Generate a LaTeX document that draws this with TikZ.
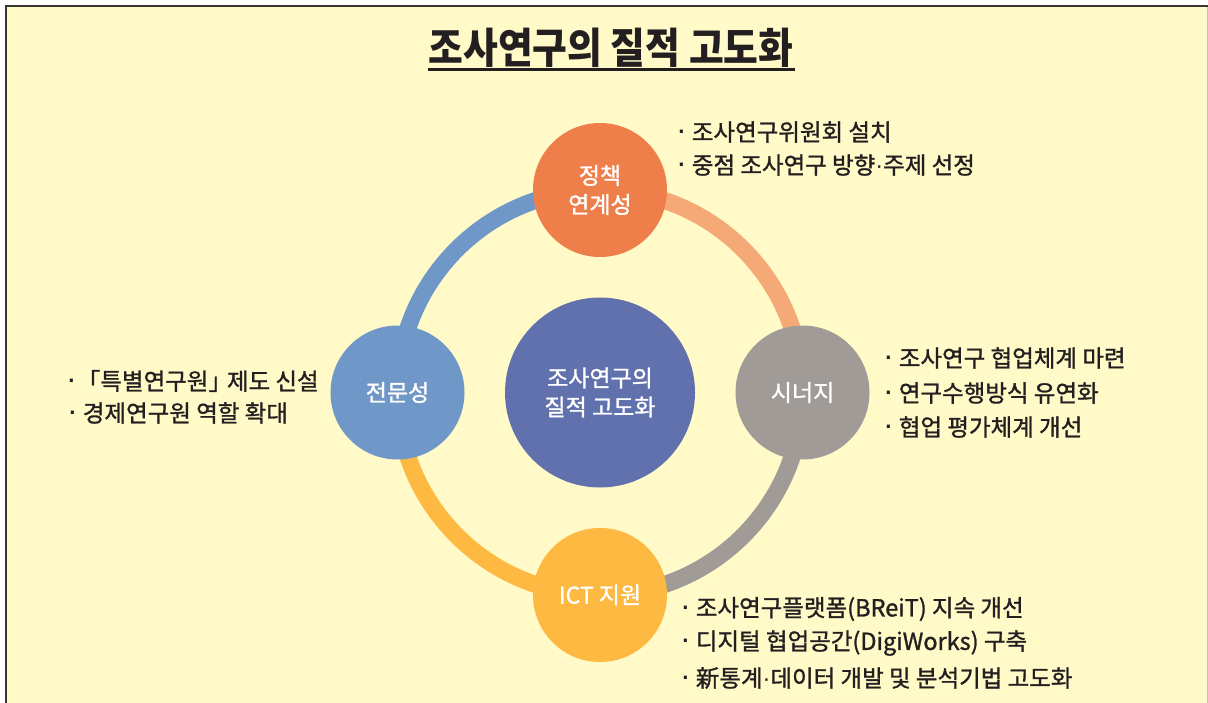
\documentclass[tikz,border=0pt]{standalone}
\usepackage{fontspec}
\setmainfont{Noto Sans CJK KR}
\newfontfamily\bodyfont{Noto Sans CJK KR}[FakeBold=1.2]
\newfontfamily\dotfont{Liberation Sans}
\newcommand\md{{\dotfont ·}}
\newcommand\bdot{{\dotfont\fontsize{32}{32}\selectfont ·}}
\newcommand\bul{\bdot\hspace{5pt}}
\usetikzlibrary{backgrounds}
\definecolor{bgyellow}{HTML}{FFFAC8}
\definecolor{framedark}{HTML}{3A3632}
\definecolor{framegray}{HTML}{C9C3A8}
\definecolor{textdark}{HTML}{231F20}
\definecolor{topC}{HTML}{EE7F4B}
\definecolor{leftC}{HTML}{6F98C9}
\definecolor{rightC}{HTML}{A19B97}
\definecolor{botC}{HTML}{FDB942}
\definecolor{centerC}{HTML}{6171AD}
\definecolor{arcTR}{HTML}{F5A977}
\definecolor{arcTL}{HTML}{6F98C9}
\definecolor{arcBR}{HTML}{A19B97}
\definecolor{arcBL}{HTML}{FDB942}
\begin{document}
\begin{tikzpicture}[x=1pt,y=1pt,
  circ/.style={circle, minimum size=134pt, inner sep=0pt, text=white,
    font=\bodyfont\fontsize{23}{29}\selectfont, align=center},
  ringarc/.style={line width=17pt},
  item/.style={anchor=west, inner sep=0pt, text=textdark,
    font=\bodyfont\fontsize{23.5}{26}\selectfont}]
\useasboundingbox (0,0) rectangle (1208,-703);
\begin{pgfonlayer}{background}
\fill[white] (0,0) rectangle (1208,-703);
\fill[bgyellow] (7,-7) rectangle (1207,-703);
\draw[framedark, line width=2pt] (6,-703) -- (6,-6) -- (1207.5,-6);
\draw[framegray, line width=1pt] (1207,-7) -- (1207,-703);
\end{pgfonlayer}

% title
\node[inner sep=0pt, text=textdark, xscale=0.9, transform shape,
  font=\fontsize{42}{44}\bfseries\selectfont]
  (title) at (611,-48) {조사연구의 질적 고도화};
\coordinate (ulA) at (428,-70);
\coordinate (ulB) at (795,-70);
\draw[textdark, line width=3pt] (ulA) -- (ulB);

% circles
\node[circ, fill=topC]   (pol)  at (600,-190)   {정책\\연계성};
\node[circ, fill=leftC]  (exp)  at (397.5,-392.5) {전문성};
\node[circ, fill=rightC] (syn)  at (802.5,-392.5) {시너지};
\node[circ, fill=botC]   (ict)  at (600,-595)   {ICT 지원};
\node[circ, fill=centerC, minimum size=190pt] (core) at (600,-392.5) {조사연구의\\질적 고도화};

% ring arcs
\begin{pgfonlayer}{background}
\draw[ringarc, arcTL] (pol.center) arc[start angle=90, end angle=180, radius=202.5];
\draw[ringarc, arcBL] (exp.center) arc[start angle=180, end angle=270, radius=202.5];
\draw[ringarc, arcBR] (ict.center) arc[start angle=270, end angle=360, radius=202.5];
\draw[ringarc, arcTR] (syn.center) arc[start angle=0, end angle=90, radius=202.5];
\end{pgfonlayer}

% bullet texts
\node[item] (t1) at (676,-132) {\bul 조사연구위원회 설치};
\node[item] (t2) at (676,-165) {\bul 중점 조사연구 방향\md 주제 선정};

\node[item] (l1) at (66,-381) {\bdot「특별연구원」\hspace{-5pt}제도 신설};
\node[item] (l2) at (67,-413) {\bul 경제연구원 역할 확대};

\node[item] (r1) at (883,-358) {\bul 조사연구 협업체계 마련};
\node[item] (r2) at (883,-393) {\bul 연구수행방식 유연화};
\node[item] (r3) at (883,-427) {\bul 협업 평가체계 개선};

\node[item] (b1) at (680,-609) {\bul 조사연구플랫폼(BReiT) 지속 개선};
\node[item] (b2) at (680,-643) {\bul 디지털 협업공간(DigiWorks) 구축};
\node[item] (b3) at (680,-678) {\bul 新통계\md 데이터 개발 및 분석기법 고도화};
\end{tikzpicture}
\end{document}
